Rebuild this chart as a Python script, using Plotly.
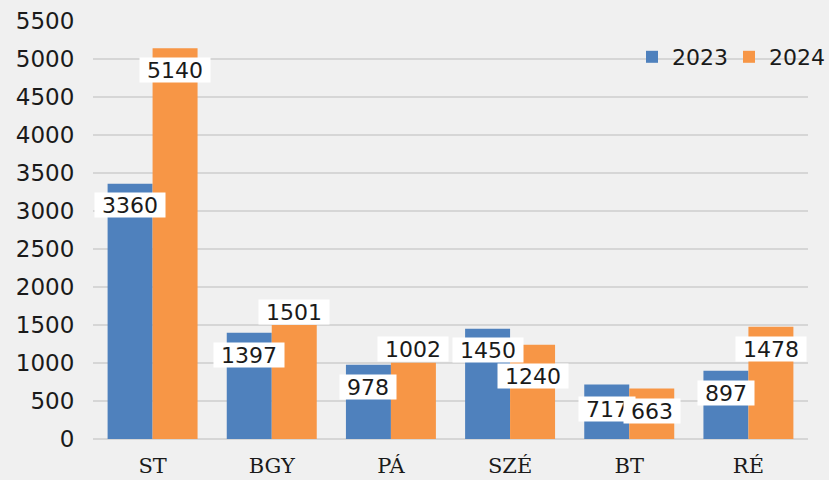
import plotly.graph_objects as go

categories = ["ST", "BGY", "PÁ", "SZÉ", "BT", "RÉ"]
values_2023 = [3360, 1397, 978, 1450, 717, 897]
values_2024 = [5140, 1501, 1002, 1240, 663, 1478]
series_names = ["2023", "2024"]
y_ticks = list(range(0, 5501, 500))

# label nudges in px (style only)
nudge_2023 = [-21, -22, -22, -21, -24, -22]
nudge_2024 = [-22, 13, 14, -31, -22, -22]

BLUE = "#4f81bd"
ORANGE = "#f79646"
BG = "#f0f0f0"
GRID = "#d6d6d6"
TXT = "#1a1a1a"

fig = go.Figure()
fig.add_trace(go.Bar(x=categories, y=values_2023, name=series_names[0],
                     marker=dict(color=BLUE, line=dict(width=0))))
fig.add_trace(go.Bar(x=categories, y=values_2024, name=series_names[1],
                     marker=dict(color=ORANGE, line=dict(width=0))))

bargap = 0.245
half = (1 - bargap) / 4.0
annotations = []
for series, nudges, sign in ((values_2023, nudge_2023, -1), (values_2024, nudge_2024, 1)):
    for i, v in enumerate(series):
        txt = str(v)
        annotations.append(dict(
            x=i + sign * half, y=v, xref="x", yref="y",
            text=txt, showarrow=False, yshift=nudges[i],
            xanchor="center", yanchor="middle",
            bgcolor="#ffffff", borderpad=0,
            width=14 * len(txt) + 14, height=24,
            font=dict(family="DejaVu Sans", size=22, color=TXT),
        ))

fig.update_layout(
    width=829, height=480,
    margin=dict(l=93, r=21, t=21, b=41, autoexpand=False),
    paper_bgcolor=BG, plot_bgcolor=BG,
    barmode="group", bargap=bargap, bargroupgap=0,
    showlegend=True,
    legend=dict(orientation="h", xref="paper", yref="paper",
                x=(632 - 93) / 715, xanchor="left",
                y=1 - (36 - 21) / 418, yanchor="top",
                bgcolor="rgba(0,0,0,0)", borderwidth=0,
                font=dict(family="DejaVu Sans", size=22, color=TXT),
                entrywidth=52, entrywidthmode="pixels",
                itemclick=False),
    annotations=annotations,
    xaxis=dict(showgrid=False, showline=False, zeroline=False,
               ticks="outside", ticklen=8, tickcolor="rgba(0,0,0,0)",
               tickfont=dict(family="DejaVu Serif", size=21, color=TXT),
               fixedrange=True, automargin=False),
    yaxis=dict(range=[0, 5500], tickvals=y_ticks, showgrid=True,
               gridcolor=GRID, gridwidth=2, zeroline=True,
               zerolinecolor=GRID, zerolinewidth=2, showline=False,
               ticks="outside", ticklen=13, tickcolor="rgba(0,0,0,0)",
               tickfont=dict(family="DejaVu Sans", size=23, color=TXT),
               fixedrange=True, automargin=False),
)

fig.write_html(
    "out.html",
    config={"displayModeBar": False, "staticPlot": True},
    post_script="document.body.style.margin='0';document.body.style.background='" + BG + "';",
)
